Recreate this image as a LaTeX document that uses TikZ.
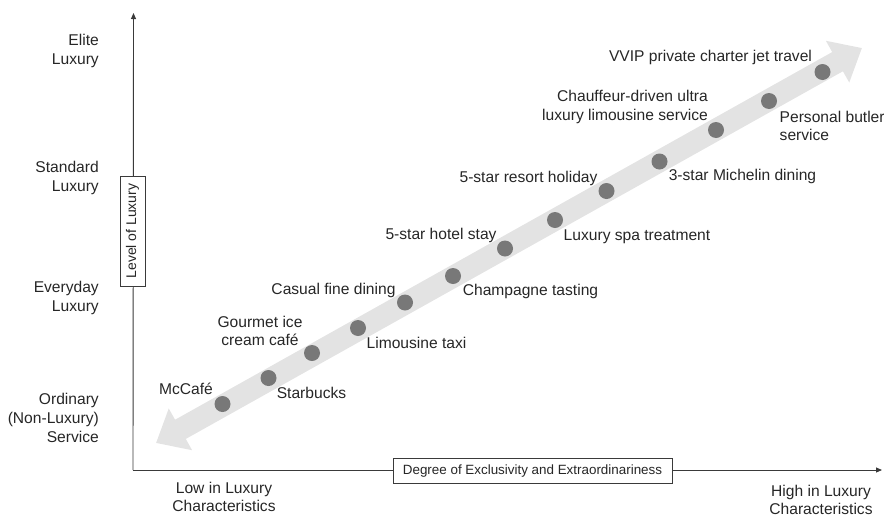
\documentclass[tikz,border=0pt]{standalone}
\usepackage{fontspec}
\setmainfont{Liberation Sans}
\usetikzlibrary{arrows.meta}
\definecolor{txt}{HTML}{262626}
\definecolor{axis}{HTML}{3A3A3A}
\definecolor{band}{HTML}{E3E3E3}
\definecolor{dotc}{HTML}{787878}
\begin{document}
\begin{tikzpicture}[x=1pt,y=-1pt,
  lbl/.style={text=txt,font=\fontsize{15.6}{18.8}\selectfont,inner sep=0pt},
  ax/.style={draw=axis,line width=0.9pt,-{Triangle[width=5pt,length=6pt]}},
  dotn/.style={circle,fill=dotc,minimum size=16pt,inner sep=0pt},
  boxn/.style={draw=axis,line width=0.8pt,fill=white,text=txt,inner sep=0pt}]
\useasboundingbox (0,0) rectangle (884,517);
% axes
\coordinate (O) at (133,470);
\coordinate (Ytop) at (133.5,13);
\coordinate (Xend) at (882,470);
\draw[ax] (O) -- (Ytop);
\draw[ax] (O) -- (Xend);
\node[boxn,rotate=90,minimum width=110pt,minimum height=25pt,font=\fontsize{14}{16}\selectfont] (ylab) at (132.5,231) {Level of Luxury};
\node[boxn,minimum width=279pt,minimum height=25pt,font=\fontsize{13.4}{16}\selectfont] (xlab) at (532.5,471) {Degree of Exclusivity and Extraordinariness};
% level labels
\node[lbl,anchor=east,align=right] (elite) at (99,51) {Elite\\Luxury};
\node[lbl,anchor=east,align=right] (standard) at (99,178) {Standard\\Luxury};
\node[lbl,anchor=east,align=right] (everyday) at (99,298) {Everyday\\Luxury};
\node[lbl,anchor=east,align=right] (ordinary) at (99,418) {Ordinary\\(Non-Luxury)\\Service};
\node[lbl,align=center] (low) at (224,497) {Low in Luxury\\Characteristics};
\node[lbl,align=center] (high) at (821,500) {High in Luxury\\Characteristics};
% band arrow
\coordinate (bandA) at (156,443);
\coordinate (bandB) at (862,48);
\draw[band,line width=22pt,{Triangle[width=46pt,length=28pt]}-{Triangle[width=46pt,length=28pt]}] (bandA) -- (bandB);
% dots
\node[dotn] (d1) at (222.5,404) {};
\node[dotn] (d2) at (268.5,378) {};
\node[dotn] (d3) at (312,353) {};
\node[dotn] (d4) at (358,328) {};
\node[dotn] (d5) at (405,302.5) {};
\node[dotn] (d6) at (453,276) {};
\node[dotn] (d7) at (505,248.5) {};
\node[dotn] (d8) at (555,220) {};
\node[dotn] (d9) at (606.5,191) {};
\node[dotn] (d10) at (659.5,161.5) {};
\node[dotn] (d11) at (716,130) {};
\node[dotn] (d12) at (769,101) {};
\node[dotn] (d13) at (822.5,72) {};
% item labels
\node[lbl,anchor=base] (l1) at (186,394.5) {McCafé};
\node[lbl,anchor=base] (l2) at (311.5,398) {Starbucks};
\node[lbl,align=center] (l3) at (260,331) {Gourmet ice\\cream café};
\node[lbl,anchor=base] (l4) at (416.5,348) {Limousine taxi};
\node[lbl,anchor=base] (l5) at (333.5,294) {Casual fine dining};
\node[lbl,anchor=base] (l6) at (530.5,295.5) {Champagne tasting};
\node[lbl,anchor=base] (l7) at (441,239.5) {5-star hotel stay};
\node[lbl,anchor=base] (l8) at (637,240.5) {Luxury spa treatment};
\node[lbl,anchor=base] (l9) at (528.5,182) {5-star resort holiday};
\node[lbl,anchor=base] (l10) at (742.5,180.5) {3-star Michelin dining};
\node[lbl,anchor=east,align=right] (l11) at (708,107) {Chauffeur-driven ultra\\luxury limousine service};
\node[lbl,anchor=west,align=left] (l12) at (779.5,126) {Personal butler\\service};
\node[lbl,anchor=base] (l13) at (710.5,61.5) {VVIP private charter jet travel};
\end{tikzpicture}
\end{document}
